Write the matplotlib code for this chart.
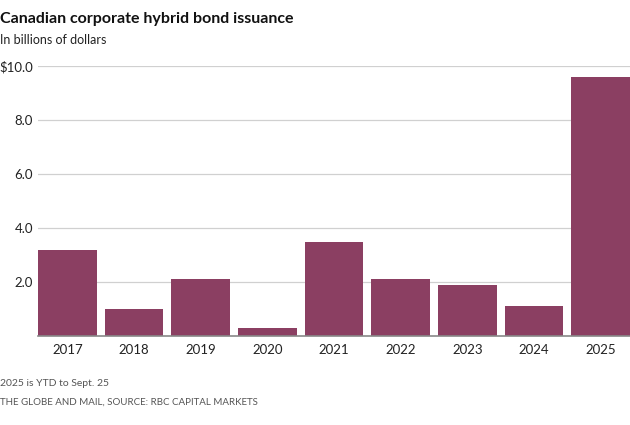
import matplotlib
matplotlib.use("Agg")
import matplotlib.pyplot as plt

# issuance per year, billions of dollars
years = ["2017", "2018", "2019", "2020", "2021", "2022", "2023", "2024", "2025"]
issuance = [3.2, 1.0, 2.1, 0.3, 3.5, 2.1, 1.9, 1.1, 9.6]
yticks = [2.0, 4.0, 6.0, 8.0, 10.0]
ytick_labels = ["2.0", "4.0", "6.0", "8.0", "$10.0"]

plt.rcParams['font.family'] = ['Lato', 'DejaVu Sans']

fig = plt.figure(figsize=(6.3, 4.25), dpi=100)
ax = fig.add_axes([38 / 630, 89 / 425, 592 / 630, 270 / 425])

x = range(len(years))
ax.bar(x, issuance, width=0.88, color="#8b3f62", zorder=3)

ax.set_xlim(-0.44, len(years) - 1 + 0.44)
ax.set_ylim(0, 10.0)
ax.set_yticks(yticks)
ax.set_yticklabels(ytick_labels, fontsize=9.5, color="#222222")
ax.set_xticks(list(x))
ax.set_xticklabels(years, fontsize=9.5, color="#222222")
ax.tick_params(axis="both", length=0)
ax.tick_params(axis="y", pad=3.5)
ax.tick_params(axis="x", pad=6)
ax.grid(axis="y", color="#d0d0d0", linewidth=0.9, zorder=0)
for s in ["top", "right", "left"]:
    ax.spines[s].set_visible(False)
ax.spines["bottom"].set_color("#888888")
ax.spines["bottom"].set_linewidth(1.2)
ax.spines["bottom"].set_zorder(4)

fig.text(0.0, 1 - 19 / 425, "Canadian corporate hybrid bond issuance",
         fontsize=11.5, fontweight="bold", color="#111111", va="center")
fig.text(0.0, 1 - 40 / 425, "In billions of dollars",
         fontsize=9, color="#222222", va="center")
fig.text(0.0, 1 - 384 / 425, "2025 is YTD to Sept. 25",
         fontsize=7.5, color="#555555", va="center")
fig.text(0.0, 1 - 402 / 425, "THE GLOBE AND MAIL, SOURCE: RBC CAPITAL MARKETS",
         fontsize=7, color="#555555", va="center")

fig.savefig("out.png", dpi=100)
